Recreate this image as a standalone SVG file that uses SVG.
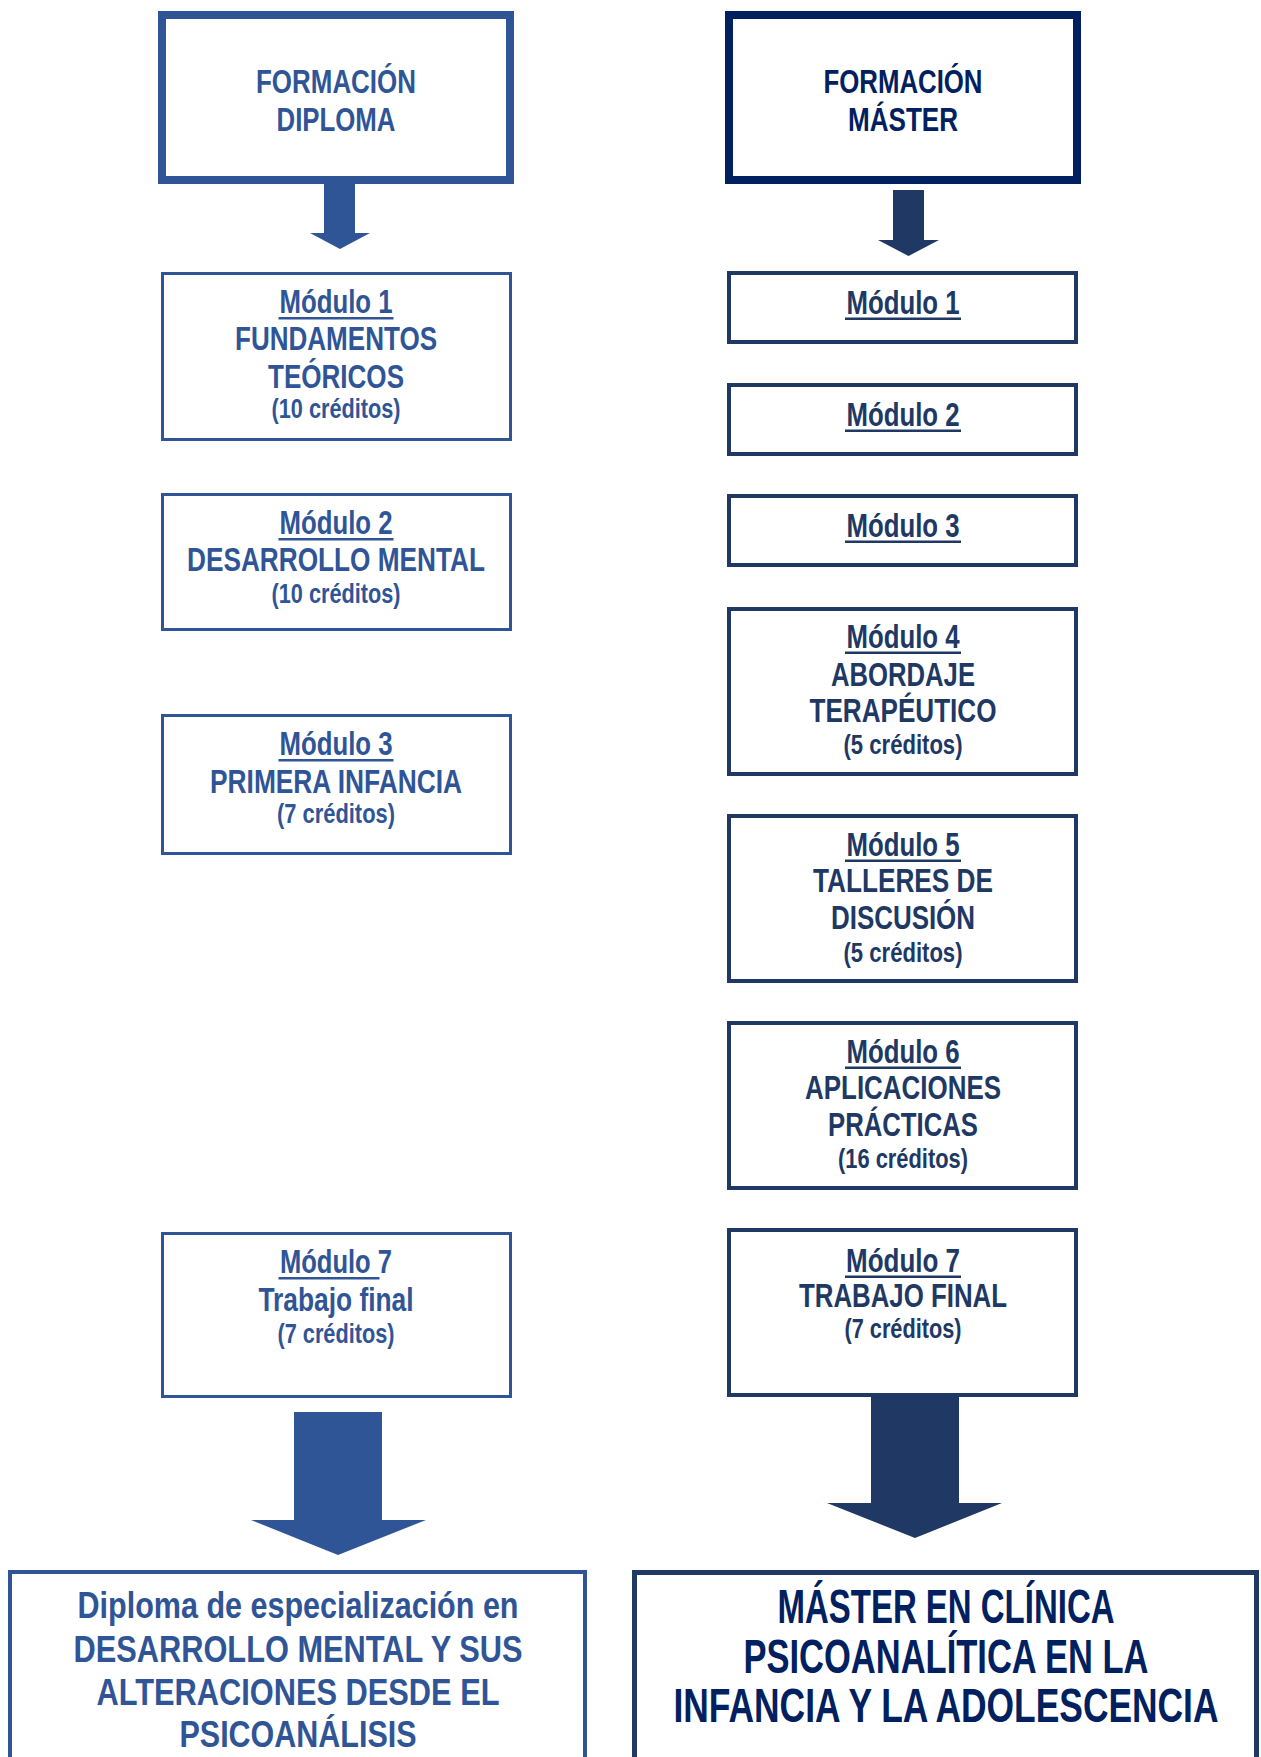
<svg xmlns="http://www.w3.org/2000/svg" width="1261" height="1757" viewBox="0 0 1261 1757">
<style>
text{font-family:"Liberation Sans Narrow","Liberation Sans",Arial,sans-serif;font-weight:bold;text-anchor:middle}
.L{fill:#2F5597}
.R{fill:#203864}
.D{fill:#002060}
.t{font-size:34px}
.c{font-size:27px}
.bl{font-size:37px}
.br{font-size:48px}
.boxL{fill:#fff;stroke:#2F5597;stroke-width:3}
.boxR{fill:#fff;stroke:#203864;stroke-width:4}
</style>
<rect width="1261" height="1757" fill="#fff"/>
<g id="connectors">
<polygon fill="#2F5597" points="324,184 355,184 355,233 370,233 340,249 310,233 324,233"/>
<polygon fill="#203864" points="893,190 924,190 924,240 939,240 908.5,256 878,240 893,240"/>
<polygon fill="#2F5597" points="294,1412 382,1412 382,1520 426,1520 338,1555 251,1520 294,1520"/>
<polygon fill="#203864" points="871,1397 959,1397 959,1503 1002,1503 915,1538 827,1503 871,1503"/>
</g>
<g id="formacion-diploma">
<rect x="162" y="15" width="348" height="165" fill="#fff" stroke="#2F5597" stroke-width="8"/>
<text class="L t" x="336" y="93" textLength="160" lengthAdjust="spacingAndGlyphs">FORMACIÓN</text>
<text class="L t" x="336" y="131" textLength="119" lengthAdjust="spacingAndGlyphs">DIPLOMA</text>
</g>
<g id="formacion-master">
<rect x="729" y="15" width="348" height="165" fill="#fff" stroke="#002060" stroke-width="8"/>
<text class="D t" x="903" y="93" textLength="159" lengthAdjust="spacingAndGlyphs">FORMACIÓN</text>
<text class="D t" x="903" y="131" textLength="110" lengthAdjust="spacingAndGlyphs">MÁSTER</text>
</g>
<g id="dip-modulo1">
<rect class="boxL" x="162.5" y="273.5" width="348" height="166"/>
<text class="L t" x="336" y="313" textLength="113" lengthAdjust="spacingAndGlyphs">Módulo 1</text>
<rect class="L" x="278.5" y="317" width="115" height="2.5"/>
<text class="L t" x="336" y="350" textLength="202" lengthAdjust="spacingAndGlyphs">FUNDAMENTOS</text>
<text class="L t" x="336" y="388" textLength="136" lengthAdjust="spacingAndGlyphs">TEÓRICOS</text>
<text class="L c" x="336" y="418" textLength="129" lengthAdjust="spacingAndGlyphs">(10 créditos)</text>
</g>
<g id="dip-modulo2">
<rect class="boxL" x="162.5" y="494.5" width="348" height="135"/>
<text class="L t" x="336" y="534" textLength="113" lengthAdjust="spacingAndGlyphs">Módulo 2</text>
<rect class="L" x="278.5" y="538" width="115" height="2.5"/>
<text class="L t" x="336" y="571" textLength="298" lengthAdjust="spacingAndGlyphs">DESARROLLO MENTAL</text>
<text class="L c" x="336" y="603" textLength="129" lengthAdjust="spacingAndGlyphs">(10 créditos)</text>
</g>
<g id="dip-modulo3">
<rect class="boxL" x="162.5" y="715.5" width="348" height="138"/>
<text class="L t" x="336" y="755" textLength="113" lengthAdjust="spacingAndGlyphs">Módulo 3</text>
<rect class="L" x="278.5" y="759" width="115" height="2.5"/>
<text class="L t" x="336" y="793" textLength="252" lengthAdjust="spacingAndGlyphs">PRIMERA INFANCIA</text>
<text class="L c" x="336" y="823" textLength="118" lengthAdjust="spacingAndGlyphs">(7 créditos)</text>
</g>
<g id="dip-modulo7">
<rect class="boxL" x="162.5" y="1233.5" width="348" height="163"/>
<text class="L t" x="336" y="1273" textLength="112" lengthAdjust="spacingAndGlyphs">Módulo 7</text>
<rect class="L" x="278.5" y="1277" width="101" height="2.5"/>
<text class="L t" x="336" y="1311" textLength="155" lengthAdjust="spacingAndGlyphs">Trabajo final</text>
<text class="L c" x="336" y="1343" textLength="117" lengthAdjust="spacingAndGlyphs">(7 créditos)</text>
</g>
<g id="mas-modulo1">
<rect class="boxR" x="729" y="273" width="347" height="69"/>
<text class="R t" x="903" y="314" textLength="113" lengthAdjust="spacingAndGlyphs">Módulo 1</text>
<rect class="R" x="845" y="317.5" width="116" height="2.5"/>
</g>
<g id="mas-modulo2">
<rect class="boxR" x="729" y="385" width="347" height="69"/>
<text class="R t" x="903" y="426" textLength="113" lengthAdjust="spacingAndGlyphs">Módulo 2</text>
<rect class="R" x="845" y="429.5" width="116" height="2.5"/>
</g>
<g id="mas-modulo3">
<rect class="boxR" x="729" y="496" width="347" height="69"/>
<text class="R t" x="903" y="537" textLength="113" lengthAdjust="spacingAndGlyphs">Módulo 3</text>
<rect class="R" x="845" y="540.5" width="116" height="2.5"/>
</g>
<g id="mas-modulo4">
<rect class="boxR" x="729" y="609" width="347" height="165"/>
<text class="R t" x="903" y="648" textLength="113" lengthAdjust="spacingAndGlyphs">Módulo 4</text>
<rect class="R" x="845" y="651.5" width="116" height="2.5"/>
<text class="R t" x="903" y="686" textLength="144" lengthAdjust="spacingAndGlyphs">ABORDAJE</text>
<text class="R t" x="903" y="722" textLength="187" lengthAdjust="spacingAndGlyphs">TERAPÉUTICO</text>
<text class="R c" x="903" y="754" textLength="119" lengthAdjust="spacingAndGlyphs">(5 créditos)</text>
</g>
<g id="mas-modulo5">
<rect class="boxR" x="729" y="816" width="347" height="165"/>
<text class="R t" x="903" y="856" textLength="113" lengthAdjust="spacingAndGlyphs">Módulo 5</text>
<rect class="R" x="845" y="859.5" width="116" height="2.5"/>
<text class="R t" x="903" y="892" textLength="180" lengthAdjust="spacingAndGlyphs">TALLERES DE</text>
<text class="R t" x="903" y="929" textLength="144" lengthAdjust="spacingAndGlyphs">DISCUSIÓN</text>
<text class="R c" x="903" y="962" textLength="119" lengthAdjust="spacingAndGlyphs">(5 créditos)</text>
</g>
<g id="mas-modulo6">
<rect class="boxR" x="729" y="1023" width="347" height="165"/>
<text class="R t" x="903" y="1063" textLength="113" lengthAdjust="spacingAndGlyphs">Módulo 6</text>
<rect class="R" x="845" y="1066.5" width="116" height="2.5"/>
<text class="R t" x="903" y="1099" textLength="196" lengthAdjust="spacingAndGlyphs">APLICACIONES</text>
<text class="R t" x="903" y="1136" textLength="150" lengthAdjust="spacingAndGlyphs">PRÁCTICAS</text>
<text class="R c" x="903" y="1168" textLength="130" lengthAdjust="spacingAndGlyphs">(16 créditos)</text>
</g>
<g id="mas-modulo7">
<rect class="boxR" x="729" y="1230" width="347" height="165"/>
<text class="R t" x="903" y="1272" textLength="114" lengthAdjust="spacingAndGlyphs">Módulo 7</text>
<rect class="R" x="845" y="1275.5" width="116" height="2.5"/>
<text class="R t" x="903" y="1307" textLength="208" lengthAdjust="spacingAndGlyphs">TRABAJO FINAL</text>
<text class="R c" x="903" y="1338" textLength="117" lengthAdjust="spacingAndGlyphs">(7 créditos)</text>
</g>
<g id="diploma-final">
<rect x="10" y="1572" width="575" height="200" fill="#fff" stroke="#2F5597" stroke-width="4"/>
<text class="L bl" x="298" y="1618" textLength="441" lengthAdjust="spacingAndGlyphs">Diploma de especialización en</text>
<text class="L bl" x="298" y="1662" textLength="449" lengthAdjust="spacingAndGlyphs">DESARROLLO MENTAL Y SUS</text>
<text class="L bl" x="298" y="1705" textLength="403" lengthAdjust="spacingAndGlyphs">ALTERACIONES DESDE EL</text>
<text class="L bl" x="298" y="1747" textLength="237" lengthAdjust="spacingAndGlyphs">PSICOANÁLISIS</text>
</g>
<g id="master-final">
<rect x="634.5" y="1572.5" width="622" height="200" fill="#fff" stroke="#203864" stroke-width="5"/>
<text class="D br" x="946" y="1623" textLength="337" lengthAdjust="spacingAndGlyphs">MÁSTER EN CLÍNICA</text>
<text class="D br" x="946" y="1673" textLength="405" lengthAdjust="spacingAndGlyphs">PSICOANALÍTICA EN LA</text>
<text class="D br" x="946" y="1722" textLength="545" lengthAdjust="spacingAndGlyphs">INFANCIA Y LA ADOLESCENCIA</text>
</g>
</svg>
